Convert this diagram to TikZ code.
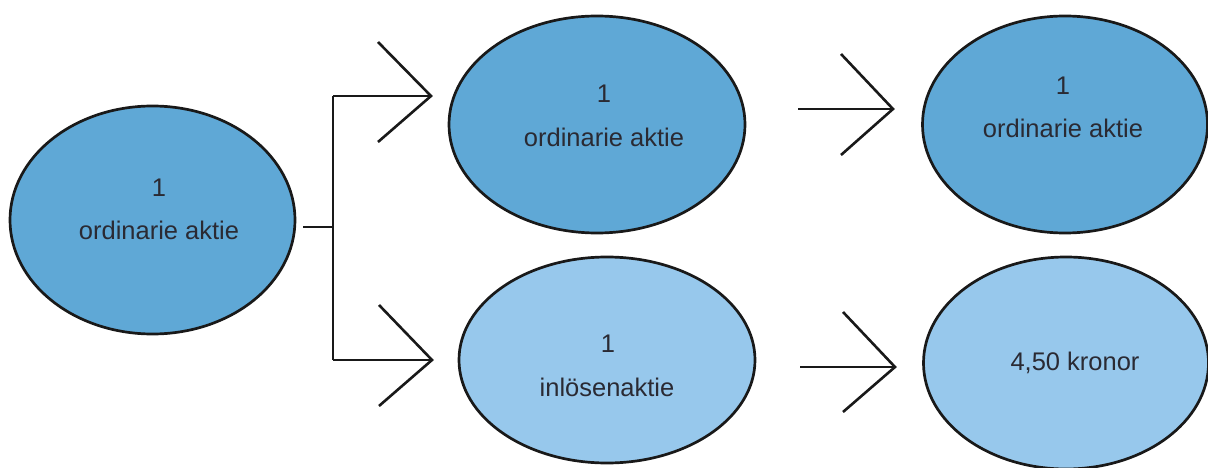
\documentclass[tikz,border=0pt]{standalone}
\usepackage{fontspec}
\setmainfont{Liberation Sans}
\usetikzlibrary{shapes.geometric}
\definecolor{darkblue}{HTML}{5FA8D6}
\definecolor{lightblue}{HTML}{97C8EC}
\definecolor{txt}{HTML}{2A2A33}
\tikzset{
  oval/.style={ellipse, draw=black!90, line width=2.7pt, inner sep=0pt},
  ovaldark/.style={oval, fill=darkblue},
  ovallight/.style={oval, fill=lightblue},
  lbl/.style={text=txt, inner sep=0pt, font=\fontsize{25.5}{30}\selectfont},
  conn/.style={draw=black!90, line width=2.6pt}
}
\begin{document}
\begin{tikzpicture}[x=1pt,y=-1pt]
\useasboundingbox (0,0) rectangle (1208,468);
\clip (0,0) rectangle (1208,468);
% ellipses
\node[ovaldark, minimum width=285pt, minimum height=228pt] (A) at (152.5,220) {};
\node[ovaldark, minimum width=296pt, minimum height=217pt] (B) at (597,124.5) {};
\node[ovallight, minimum width=296pt, minimum height=206pt] (C) at (607,360) {};
\node[ovaldark, minimum width=285pt, minimum height=217pt] (D) at (1065,124.5) {};
\node[ovallight, minimum width=285pt, minimum height=212pt] (E) at (1066,363) {};
% labels
\node[lbl] (A1) at (159,188) {1};
\node[lbl] (A2) at (159,230) {ordinarie aktie};
\node[lbl] (B1) at (604,94) {1};
\node[lbl] (B2) at (604,137) {ordinarie aktie};
\node[lbl] (C1) at (608,344) {1};
\node[lbl] (C2) at (607,387) {inlösenaktie};
\node[lbl] (D1) at (1063,86) {1};
\node[lbl] (D2) at (1063,128) {ordinarie aktie};
\node[lbl] (E1) at (1075,363) {4,50 kronor};
% bracket connector
\coordinate (s0) at (303,227);
\coordinate (j0) at (333,227);
\coordinate (jt) at (333,96);
\coordinate (jb) at (333,360);
\coordinate (tt) at (431,96);
\coordinate (tb) at (432,360);
\draw[conn] (s0) -- (j0);
\draw[conn] (jt) -- (jb);
\draw[conn] (jt) -- (tt);
\draw[conn] (jb) -- (tb);
\draw[conn] (378,42) -- (tt) -- (378,142);
\draw[conn] (379,305) -- (tb) -- (379,406);
% right arrows
\coordinate (s1) at (798,109);
\coordinate (t1) at (893,109);
\coordinate (s2) at (800,367);
\coordinate (t2) at (895,367);
\draw[conn] (s1) -- (t1);
\draw[conn] (841,54) -- (t1) -- (841,155);
\draw[conn] (s2) -- (t2);
\draw[conn] (843,312) -- (t2) -- (843,412);
\end{tikzpicture}
\end{document}
